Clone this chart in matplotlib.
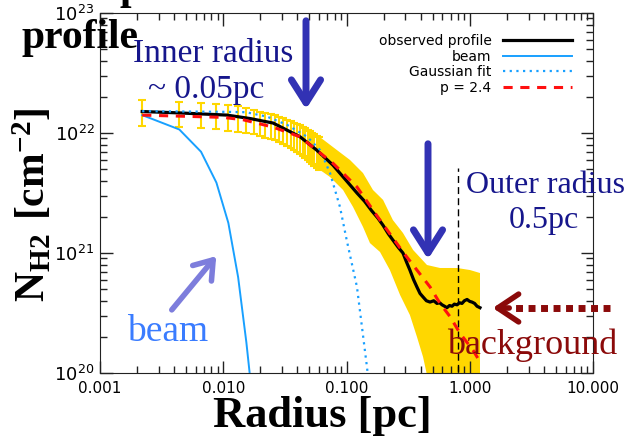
import numpy as np
import matplotlib
matplotlib.use('Agg')
import matplotlib.pyplot as plt
from matplotlib.ticker import FixedLocator, FuncFormatter, LogLocator, NullFormatter

plt.rcParams['mathtext.fontset'] = 'custom'
plt.rcParams['mathtext.rm'] = 'DejaVu Sans'
plt.rcParams['mathtext.it'] = 'DejaVu Sans:italic'
plt.rcParams['mathtext.bf'] = 'Liberation Serif:bold'

# observed profile (pc, cm^-2)
obs_r = [0.0022, 0.0044, 0.0107, 0.0165, 0.0254, 0.042, 0.0573, 0.0776, 0.094, 0.122,
         0.140, 0.160, 0.180, 0.198, 0.218, 0.238, 0.262, 0.287, 0.307, 0.327,
         0.350, 0.373, 0.395, 0.418, 0.445, 0.476, 0.510, 0.542, 0.570, 0.596,
         0.625, 0.653, 0.685, 0.718, 0.750, 0.789, 0.825, 0.865, 0.905, 0.951,
         1.0, 1.043, 1.095, 1.146, 1.211]
obs_n = [1.51e22, 1.47e22, 1.41e22, 1.32e22, 1.21e22, 9.3e21, 7.2e21, 5.4e21, 4.3e21, 3.15e21,
         2.7e21, 2.25e21, 1.95e21, 1.70e21, 1.45e21, 1.28e21, 1.12e21, 1.0e21, 8.4e20, 7.2e20,
         6.0e20, 5.2e20, 4.6e20, 4.3e20, 4.0e20, 3.9e20, 4.0e20, 3.8e20, 3.85e20, 3.7e20,
         3.6e20, 3.5e20, 3.65e20, 3.6e20, 3.75e20, 3.7e20, 3.85e20, 3.8e20, 4.0e20, 4.1e20,
         3.95e20, 3.9e20, 3.8e20, 3.6e20, 3.5e20]

# error bars of the inner points
bar_r = [0.0022, 0.0044, 0.0066, 0.0088, 0.0110, 0.0132, 0.0154, 0.0176, 0.0198,
         0.0220, 0.0242, 0.0264, 0.0286, 0.0308, 0.0330, 0.0352, 0.0374, 0.0396,
         0.0418, 0.0440, 0.0462, 0.0484, 0.0506, 0.0528, 0.0550, 0.0572, 0.0594]
bar_hi = [1.884e22, 1.830e22, 1.778e22, 1.746e22, 1.710e22, 1.663e22, 1.614e22, 1.556e22, 1.510e22,
          1.469e22, 1.439e22, 1.400e22, 1.358e22, 1.321e22, 1.282e22, 1.247e22, 1.223e22, 1.189e22,
          1.167e22, 1.132e22, 1.102e22, 1.069e22, 1.040e22, 1.009e22, 9.82e21, 9.53e21, 9.27e21]
bar_lo = [1.143e22, 1.132e22, 1.102e22, 1.079e22, 1.049e22, 1.019e22, 1.000e22, 9.82e21, 9.44e21,
          9.17e21, 8.91e21, 8.66e21, 8.41e21, 8.09e21, 7.79e21, 7.50e21, 7.22e21, 6.95e21,
          6.68e21, 6.43e21, 6.19e21, 5.96e21, 5.73e21, 5.52e21, 5.31e21, 5.11e21, 4.92e21]

# error band further out
band_up_r = [0.058, 0.0776, 0.1067, 0.1361, 0.164, 0.198, 0.238, 0.287, 0.347, 0.450,
             0.574, 0.789, 1.005, 1.211]
band_up_n = [9.6e21, 7.64e21, 5.96e21, 4.64e21, 3.35e21, 2.77e21, 1.88e21, 1.47e21, 1.06e21, 7.94e20,
             7.5e20, 7.5e20, 7.21e20, 6.81e20]
band_lo_r = [0.058, 0.0735, 0.0938, 0.113, 0.1361, 0.155, 0.187, 0.225, 0.272, 0.327,
             0.373, 0.418, 0.450, 1.211]
band_lo_n = [5.1e21, 4.30e21, 3.35e21, 2.42e21, 1.65e21, 1.21e21, 1.02e21, 7.21e20, 4.47e20, 3.04e20,
             2.0e20, 1.36e20, 9.6e19, 1e19]

# beam
beam_r = [0.0022, 0.0044, 0.0066, 0.0088, 0.0110, 0.0132, 0.0154, 0.0176]
beam_n = [1.41e22, 1.07e22, 6.98e21, 3.86e21, 1.78e21, 6.3e20, 1.8e20, 5.0e19]

# gaussian fit
gau_r = [0.0022, 0.0107, 0.0153, 0.0226, 0.0329, 0.0479, 0.0610, 0.0735, 0.0885, 0.1004,
         0.1216, 0.1466, 0.152]
gau_n = [1.52e22, 1.50e22, 1.49e22, 1.37e22, 1.17e22, 9.31e21, 7.21e21, 4.64e21, 2.42e21, 1.28e21,
         5.21e20, 1.12e20, 8e19]

# p = 2.4 model
mod_r = [0.0022, 0.00995, 0.01445, 0.0253, 0.042, 0.0535, 0.0776, 0.1216, 0.1767, 0.287,
         0.373, 0.477, 0.574, 0.692, 0.834, 1.062, 1.2]
mod_n = [1.41e22, 1.35e22, 1.29e22, 1.12e22, 9.3e21, 7.6e21, 5.6e21, 3.55e21, 2.04e21, 1.02e21,
         7.2e20, 5.2e20, 3.8e20, 2.95e20, 2.14e20, 1.55e20, 1.26e20]

outer_r = 0.8
outer_top = 5.1e21

W, H = 627, 437


def px(x, y):
    return (x / W, 1 - y / H)


fig = plt.figure(figsize=(W / 100, H / 100), dpi=100)
ax = fig.add_axes([100 / W, (H - 373) / H, 493 / W, 360 / H])

gold = '#ffd700'
ax.fill(band_up_r + band_lo_r[::-1], band_up_n + band_lo_n[::-1], color=gold, lw=0, zorder=1)
ax.vlines(bar_r, bar_lo, bar_hi, color=gold, lw=1.5, zorder=1)
ax.plot(bar_r, bar_hi, ls='none', marker='_', ms=6, mew=1.5, color=gold, zorder=1)
ax.plot(bar_r, bar_lo, ls='none', marker='_', ms=6, mew=1.5, color=gold, zorder=1)

ax.plot(obs_r, obs_n, color='black', lw=2.3, label='observed profile', zorder=3)
ax.plot(beam_r, beam_n, color='#18a0ff', lw=1.4, label='beam', zorder=3)
ax.plot(gau_r, gau_n, color='#18a0ff', lw=1.6, ls=(0, (1, 2)), label='Gaussian fit', zorder=4)
ax.plot(mod_r, mod_n, color='#ff1010', lw=2.2, ls=(0, (3, 2.5)), label='p = 2.4', zorder=5)
ax.vlines([outer_r], 1e19, outer_top, color='black', lw=1.0, ls=(0, (5, 3)), zorder=2)

ax.set_xscale('log')
ax.set_yscale('log')
ax.set_xlim(0.001, 10)
ax.set_ylim(1e20, 1e23)

ax.xaxis.set_major_locator(FixedLocator([0.001, 0.01, 0.1, 1, 10]))
ax.xaxis.set_major_formatter(FuncFormatter(lambda v, p: '%.3f' % v))
ax.xaxis.set_minor_locator(LogLocator(base=10, subs=np.arange(2, 10), numticks=20))
ax.xaxis.set_minor_formatter(NullFormatter())
ax.yaxis.set_major_locator(FixedLocator([1e20, 1e21, 1e22, 1e23]))
ax.yaxis.set_major_formatter(FuncFormatter(
    lambda v, p: r'$\mathrm{10^{%d}}$' % round(np.log10(v))))
ax.yaxis.set_minor_locator(LogLocator(base=10, subs=np.arange(2, 10), numticks=20))
ax.yaxis.set_minor_formatter(NullFormatter())
ax.tick_params(which='both', direction='in', top=True, right=True, width=1, color='#222222')
ax.tick_params(which='major', length=9)
ax.tick_params(which='minor', length=5)
ax.tick_params(axis='x', labelsize=11, pad=6)
ax.tick_params(axis='y', labelsize=13, pad=4)
for s in ax.spines.values():
    s.set_color('#222222')

leg = ax.legend(loc='upper right', bbox_to_anchor=px(572, 34), bbox_transform=fig.transFigure,
                frameon=False, markerfirst=False, alignment='right', fontsize=10,
                handlelength=5.0, handletextpad=0.8, labelspacing=0.12, borderpad=0,
                borderaxespad=0)

serif = 'Liberation Serif'
fig.text(*px(33, 205), r'$\mathbf{N_{H2}\ [cm^{-2}]}$', rotation=90, fontsize=30,
         ha='center', va='center')
fig.text(*px(322, 427), 'Radius [pc]', fontsize=32, fontweight='bold', family=serif,
         ha='center', va='baseline')
fig.text(*px(120, -1), 'p', fontsize=30, fontweight='bold', family=serif, va='baseline')
fig.text(*px(22, 48), 'profile', fontsize=30, fontweight='bold', family=serif, va='baseline')

navy = '#16168c'
fig.text(*px(133, 62), 'Inner radius', fontsize=24, color=navy, family=serif, va='baseline')
fig.text(*px(148, 98), '~ 0.05pc', fontsize=24, color=navy, family=serif, va='baseline')
fig.text(*px(466, 193), 'Outer radius', fontsize=23, color=navy, family=serif, va='baseline')
fig.text(*px(509, 228), '0.5pc', fontsize=23, color=navy, family=serif, va='baseline')
fig.text(*px(127, 341), 'beam', fontsize=27, color='#3a7cff', family=serif, va='baseline')
fig.text(*px(447, 354), 'background', fontsize=26, color='#8b0a0a', family=serif,
         va='baseline', zorder=10)

arrow_blue = '#3232b4'
for x0, y0, y1 in [(306, 18, 112), (428, 141, 262)]:
    fig.patches.append(matplotlib.patches.FancyArrowPatch(
        px(x0, y0), px(x0, y1), transform=fig.transFigure, arrowstyle='->,head_length=0.55,head_width=0.35',
        mutation_scale=30, lw=5, color=arrow_blue, zorder=10))

fig.patches.append(matplotlib.patches.FancyArrowPatch(
    px(170, 312), px(218, 254), transform=fig.transFigure, arrowstyle='->,head_length=0.5,head_width=0.35',
    mutation_scale=25, lw=4, color='#7d7ddc', zorder=10))

fig.lines.append(matplotlib.lines.Line2D([610 / W, 512 / W], [1 - 308 / H, 1 - 308 / H],
                                         transform=fig.transFigure, color='#8b0a0a', lw=5,
                                         ls=(0, (1, 0.8)), zorder=10))
fig.patches.append(matplotlib.patches.FancyArrowPatch(
    px(512, 308), px(490, 308), transform=fig.transFigure, arrowstyle='->,head_length=0.6,head_width=0.4',
    mutation_scale=25, lw=4, color='#8b0a0a', zorder=10))

fig.savefig('out.png', dpi=100)
